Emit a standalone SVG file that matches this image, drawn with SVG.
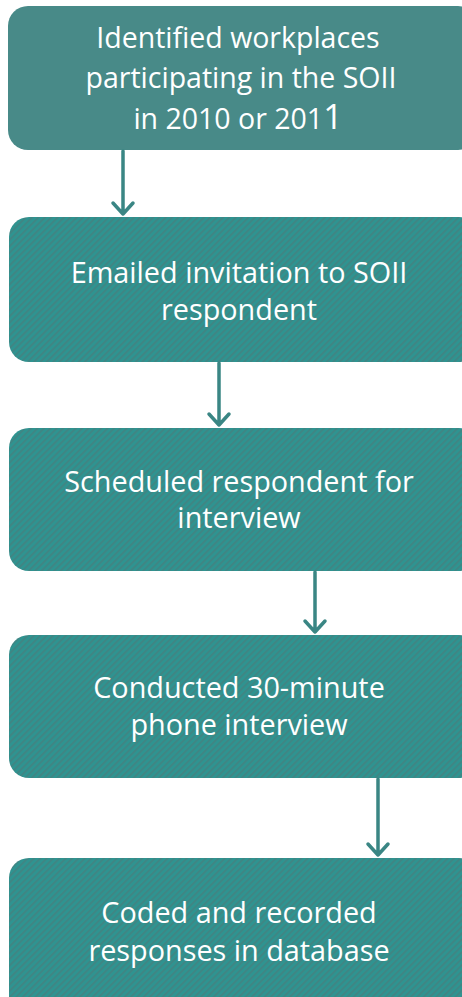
<svg xmlns="http://www.w3.org/2000/svg" width="462" height="997" viewBox="0 0 462 997">
<defs>
<pattern id="hatch" patternUnits="userSpaceOnUse" width="4.5" height="4.5" patternTransform="rotate(45)">
<rect width="4.5" height="4.5" fill="#2e9491"/>
<rect width="2" height="4.5" fill="#3f8684"/>
</pattern>
</defs>
<style>
.box{fill:url(#hatch);}
.box1{fill:#488a88;}
.t{font-family:"Open Sans","Liberation Sans",Arial,sans-serif;font-size:28.8px;fill:#ffffff;text-anchor:middle;}
.t1{font-size:28.5px;}
.c{stroke:#3a8684;stroke-width:3.5;fill:none;stroke-linecap:round;stroke-linejoin:round;}
</style>
<g id="node1">
<rect class="box1" x="8" y="6" width="470" height="144" rx="20"/>
<text class="t t1" x="238" y="48">Identified workplaces</text>
<text class="t t1" x="241" y="88">participating in the SOII</text>
<text class="t t1" x="238" y="129">in 2010 or 201<tspan font-size="34">1</tspan></text>
</g>
<g id="node2">
<rect class="box" x="9" y="217" width="470" height="145" rx="20"/>
<text class="t" x="239" y="283">Emailed invitation to SOII</text>
<text class="t" x="239" y="320">respondent</text>
</g>
<g id="node3">
<rect class="box" x="9" y="428" width="470" height="143" rx="20"/>
<text class="t" x="239" y="492">Scheduled respondent for</text>
<text class="t" x="239" y="528">interview</text>
</g>
<g id="node4">
<rect class="box" x="9" y="635" width="470" height="143" rx="20"/>
<text class="t" x="239" y="698">Conducted 30-minute</text>
<text class="t" x="239" y="735">phone interview</text>
</g>
<g id="node5">
<rect class="box" x="9" y="858" width="470" height="160" rx="20"/>
<text class="t" x="239" y="923">Coded and recorded</text>
<text class="t" x="239" y="961">responses in database</text>
</g>
<g id="connectors">
<path class="c" d="M123 151 V214 M113 203 L123 214 L133 203"/>
<path class="c" d="M219 363 V425 M209 414 L219 425 L229 414"/>
<path class="c" d="M315 572 V632 M305 621 L315 632 L325 621"/>
<path class="c" d="M378 779 V855 M368 844 L378 855 L388 844"/>
</g>
</svg>
